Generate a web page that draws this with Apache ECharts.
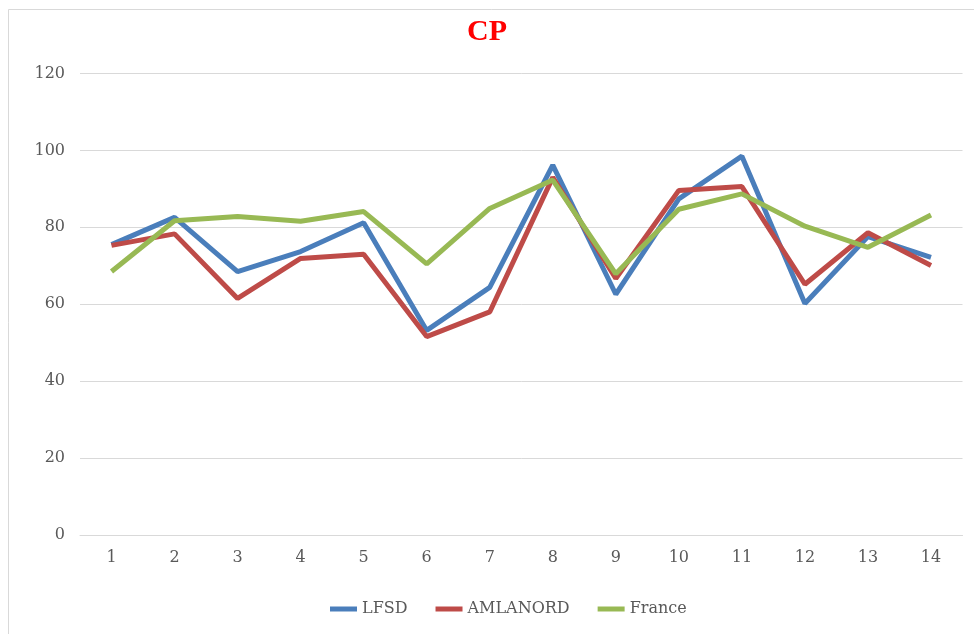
<!DOCTYPE html>
<html>
<head>
<meta charset="utf-8">
<title>CP</title>
<script src="https://cdn.jsdelivr.net/npm/echarts@6/dist/echarts.min.js"></script>
<style>
  html, body { margin: 0; padding: 0; background: #fff; }
  #chart { width: 974px; height: 634px; }
</style>
</head>
<body>
<div id="chart"></div>
<script>
const categories = ['1', '2', '3', '4', '5', '6', '7', '8', '9', '10', '11', '12', '13', '14'];
const lfsd = [75.5, 82.6, 68.5, 73.7, 81.2, 53.2, 64.4, 96.2, 62.6, 87.4, 98.5, 60.2, 77.6, 72.2];
const amlanord = [75.3, 78.3, 61.5, 71.9, 73.0, 51.6, 58.0, 93.0, 66.7, 89.6, 90.6, 65.2, 78.6, 70.1];
const france = [68.5, 81.7, 82.8, 81.6, 84.1, 70.5, 84.9, 92.3, 67.9, 84.7, 88.7, 80.3, 74.8, 83.2];
const yTicks = [0, 20, 40, 60, 80, 100, 120];

(function () {
  const chartContainer = document.getElementById('chart');
  const chart = echarts.init(chartContainer);
  const labelFont = 'DejaVu Serif';

  const option = {
    animation: false,
    backgroundColor: '#fff',
    graphic: [
      {
        type: 'rect',
        shape: { x: 8.5, y: 9.5, width: 980, height: 640 },
        style: { fill: 'none', stroke: '#d9d9d9', lineWidth: 1 },
        z: -1
      }
    ],
    title: {
      text: 'CP',
      left: 'center',
      top: 12,
      textStyle: {
        color: '#ff0000',
        fontFamily: 'Liberation Serif',
        fontWeight: 'bold',
        fontSize: 30
      }
    },
    legend: {
      bottom: 12,
      left: 325,
      itemGap: 28,
      itemWidth: 27,
      itemHeight: 5,
      icon: 'rect',
      textStyle: { color: '#595959', fontFamily: labelFont, fontSize: 16 },
      data: ['LFSD', 'AMLANORD', 'France']
    },
    grid: {
      left: 80,
      top: 73.5,
      width: 882.5,
      height: 461.5,
      containLabel: false
    },
    xAxis: {
      type: 'category',
      data: categories,
      boundaryGap: true,
      axisLine: { show: true, lineStyle: { color: '#d9d9d9', width: 1 } },
      axisTick: { show: false },
      axisLabel: { color: '#595959', fontFamily: labelFont, fontSize: 16, margin: 15 }
    },
    yAxis: {
      type: 'value',
      min: yTicks[0],
      max: yTicks[yTicks.length - 1],
      interval: 20,
      axisLine: { show: false },
      axisTick: { show: false },
      splitLine: { lineStyle: { color: '#d9d9d9', width: 1 } },
      axisLabel: { color: '#595959', fontFamily: labelFont, fontSize: 16, margin: 15 }
    },
    series: [
      {
        name: 'LFSD',
        type: 'line',
        data: lfsd,
        symbol: 'none',
        lineStyle: { color: '#4a7ebb', width: 5 },
        itemStyle: { color: '#4a7ebb' }
      },
      {
        name: 'AMLANORD',
        type: 'line',
        data: amlanord,
        symbol: 'none',
        lineStyle: { color: '#be4b48', width: 5 },
        itemStyle: { color: '#be4b48' }
      },
      {
        name: 'France',
        type: 'line',
        data: france,
        symbol: 'none',
        lineStyle: { color: '#98b954', width: 5 },
        itemStyle: { color: '#98b954' }
      }
    ]
  };

  chart.setOption(option);
  window.addEventListener('resize', () => chart.resize());
})();
</script>
</body>
</html>
